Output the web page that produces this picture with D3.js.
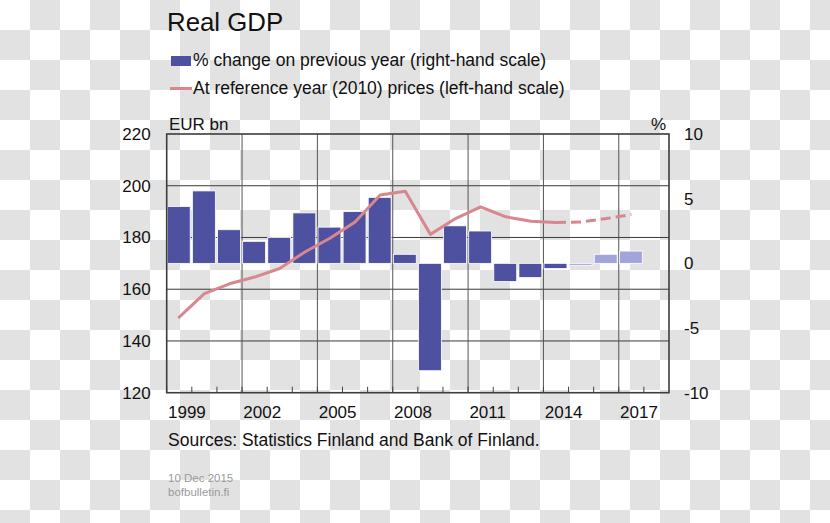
<!DOCTYPE html>
<html>
<head>
<meta charset="utf-8">
<script src="https://cdn.jsdelivr.net/npm/d3@7/dist/d3.min.js"></script>
<style>
  html, body { margin: 0; padding: 0; background: #fff; }
  svg { display: block; font-family: "Liberation Sans", Arial, sans-serif; }
</style>
</head>
<body>
<svg id="chart" width="830" height="523"></svg>
<script>
// ---- data ----
const years = [1999, 2000, 2001, 2002, 2003, 2004, 2005, 2006, 2007, 2008,
               2009, 2010, 2011, 2012, 2013, 2014, 2015, 2016, 2017];
const bandYears = years.concat([2018]);
const growth = [4.4, 5.6, 2.6, 1.7, 2.0, 3.9, 2.8, 4.0, 5.1, 0.7,
                -8.3, 2.9, 2.5, -1.4, -1.1, -0.4, -0.15, 0.7, 0.95];
const forecastFrom = 2015;
const gdp = [149.2, 158.3, 162.1, 164.7, 168.0, 174.4, 179.7, 186.0, 196.4, 197.9,
             181.2, 187.3, 191.8, 188.0, 186.3, 185.8, 186.0, 187.3, 188.9];
const solidUntil = 2014;
const leftTicks = [120, 140, 160, 180, 200, 220];
const rightTicks = [-10, -5, 0, 5, 10];
const xLabelYears = [1999, 2002, 2005, 2008, 2011, 2014, 2017];
const gridYears = [2002, 2005, 2008, 2011, 2014, 2017];

// ---- layout ----
const L = 166.7, R = 669, T = 134, B = 392.7;
const barColor = "#4e519f", barLight = "#a2a5d9", lineColor = "#d8878f";
const FS = 17, FL = 17.5;

const svg = d3.select("#chart");

// checkerboard background
const defs = svg.append("defs");
const pat = defs.append("pattern").attr("id", "chk").attr("width", 60).attr("height", 60)
  .attr("patternUnits", "userSpaceOnUse");
pat.append("rect").attr("width", 60).attr("height", 60).attr("fill", "#ffffff");
pat.append("rect").attr("x", 30).attr("y", 0).attr("width", 30).attr("height", 30).attr("fill", "#e2e2e2");
pat.append("rect").attr("x", 0).attr("y", 30).attr("width", 30).attr("height", 30).attr("fill", "#e2e2e2");
svg.append("rect").attr("width", 830).attr("height", 523).attr("fill", "url(#chk)");

// scales
const x = d3.scaleBand().domain(bandYears).range([L, R]).padding(0);
const yL = d3.scaleLinear().domain([120, 220]).range([B, T]);
const yR = d3.scaleLinear().domain([-10, 10]).range([B, T]);

// horizontal gridlines
svg.append("g").selectAll("line").data(leftTicks.slice(1, -1)).join("line")
  .attr("x1", L).attr("x2", R).attr("y1", d => yL(d)).attr("y2", d => yL(d))
  .attr("stroke", "#3a3a3a").attr("stroke-width", 1);
// vertical gridlines
svg.append("g").selectAll("line").data(gridYears).join("line")
  .attr("x1", d => x(d)).attr("x2", d => x(d)).attr("y1", T).attr("y2", B)
  .attr("stroke", "#555").attr("stroke-width", 1);

// bars
svg.append("g").selectAll("rect").data(years).join("rect")
  .attr("x", d => x(d) + 0.6)
  .attr("width", x.bandwidth() - 2.2)
  .attr("y", (d, i) => yR(Math.max(0, growth[i])))
  .attr("height", (d, i) => Math.abs(yR(growth[i]) - yR(0)))
  .attr("fill", d => d >= forecastFrom ? barLight : barColor)
  .attr("stroke", "#ffffff").attr("stroke-width", 0.8);

// line
const pts = years.map((y, i) => ({ y, v: gdp[i] }));
const line = d3.line().x(d => x(d.y) + x.bandwidth() / 2).y(d => yL(d.v));
svg.append("path").datum(pts.filter(d => d.y <= solidUntil))
  .attr("d", line).attr("fill", "none").attr("stroke", lineColor)
  .attr("stroke-width", 3).attr("stroke-linejoin", "round").attr("stroke-linecap", "round");
svg.append("path").datum(pts.filter(d => d.y >= solidUntil))
  .attr("d", line).attr("fill", "none").attr("stroke", lineColor)
  .attr("stroke-width", 3).attr("stroke-dasharray", "10,5");

// bottom ticks (inside)
const xAxis = d3.axisBottom(x).tickValues(bandYears).tickSizeInner(-6).tickSizeOuter(0).tickFormat("");
const gx = svg.append("g").attr("transform", `translate(0,${B})`).call(xAxis);
gx.select(".domain").remove();
gx.selectAll(".tick").attr("transform", d => `translate(${x(d)},0)`);
gx.selectAll(".tick line").attr("stroke", "#444");

// x labels
svg.append("g").selectAll("text").data(xLabelYears).join("text")
  .attr("x", d => x(d) + 1.3).attr("y", 418)
  .attr("font-size", FS).attr("fill", "#111").text(d => d);

// frame
svg.append("rect").attr("x", L).attr("y", T).attr("width", R - L).attr("height", B - T)
  .attr("fill", "none").attr("stroke", "#3c3c3c").attr("stroke-width", 1.6);

// left axis
const gl = svg.append("g").attr("transform", `translate(${L},0)`)
  .call(d3.axisLeft(yL).tickValues(leftTicks).tickSize(0).tickPadding(16));
gl.select(".domain").remove();
gl.selectAll("text").attr("font-size", FS).attr("fill", "#111")
  .attr("font-family", "Liberation Sans, Arial, sans-serif");

// right axis
const gr = svg.append("g").attr("transform", `translate(684,0)`)
  .call(d3.axisRight(yR).tickValues(rightTicks).tickSize(0).tickPadding(0)
    .tickFormat(d => d < 0 ? "-" + Math.abs(d) : String(d)));
gr.select(".domain").remove();
gr.selectAll("text").attr("font-size", FS).attr("fill", "#111")
  .attr("font-family", "Liberation Sans, Arial, sans-serif");

// unit labels
svg.append("text").attr("x", 169).attr("y", 130).attr("font-size", FS).attr("fill", "#111").text("EUR bn");
svg.append("text").attr("x", 666).attr("y", 130).attr("font-size", FS).attr("fill", "#111")
  .attr("text-anchor", "end").text("%");

// title
svg.append("text").attr("x", 167).attr("y", 31).attr("font-size", 25.8).attr("fill", "#111").text("Real GDP");

// legend
svg.append("rect").attr("x", 171).attr("y", 56).attr("width", 20).attr("height", 10).attr("fill", barColor);
svg.append("text").attr("x", 193).attr("y", 66).attr("font-size", FL).attr("fill", "#111")
  .text("% change on previous year (right-hand scale)");
svg.append("line").attr("x1", 170).attr("x2", 192).attr("y1", 88.5).attr("y2", 88.5)
  .attr("stroke", lineColor).attr("stroke-width", 3);
svg.append("text").attr("x", 193).attr("y", 94).attr("font-size", FL).attr("fill", "#111")
  .text("At reference year (2010) prices (left-hand scale)");

// sources
svg.append("text").attr("x", 168).attr("y", 446).attr("font-size", FL).attr("fill", "#111")
  .text("Sources: Statistics Finland and Bank of Finland.");
svg.append("text").attr("x", 168).attr("y", 482).attr("font-size", 11.5).attr("fill", "#9a9a9a").text("10 Dec 2015");
svg.append("text").attr("x", 168).attr("y", 496).attr("font-size", 11.5).attr("fill", "#9a9a9a").text("bofbulletin.fi");
</script>
</body>
</html>
